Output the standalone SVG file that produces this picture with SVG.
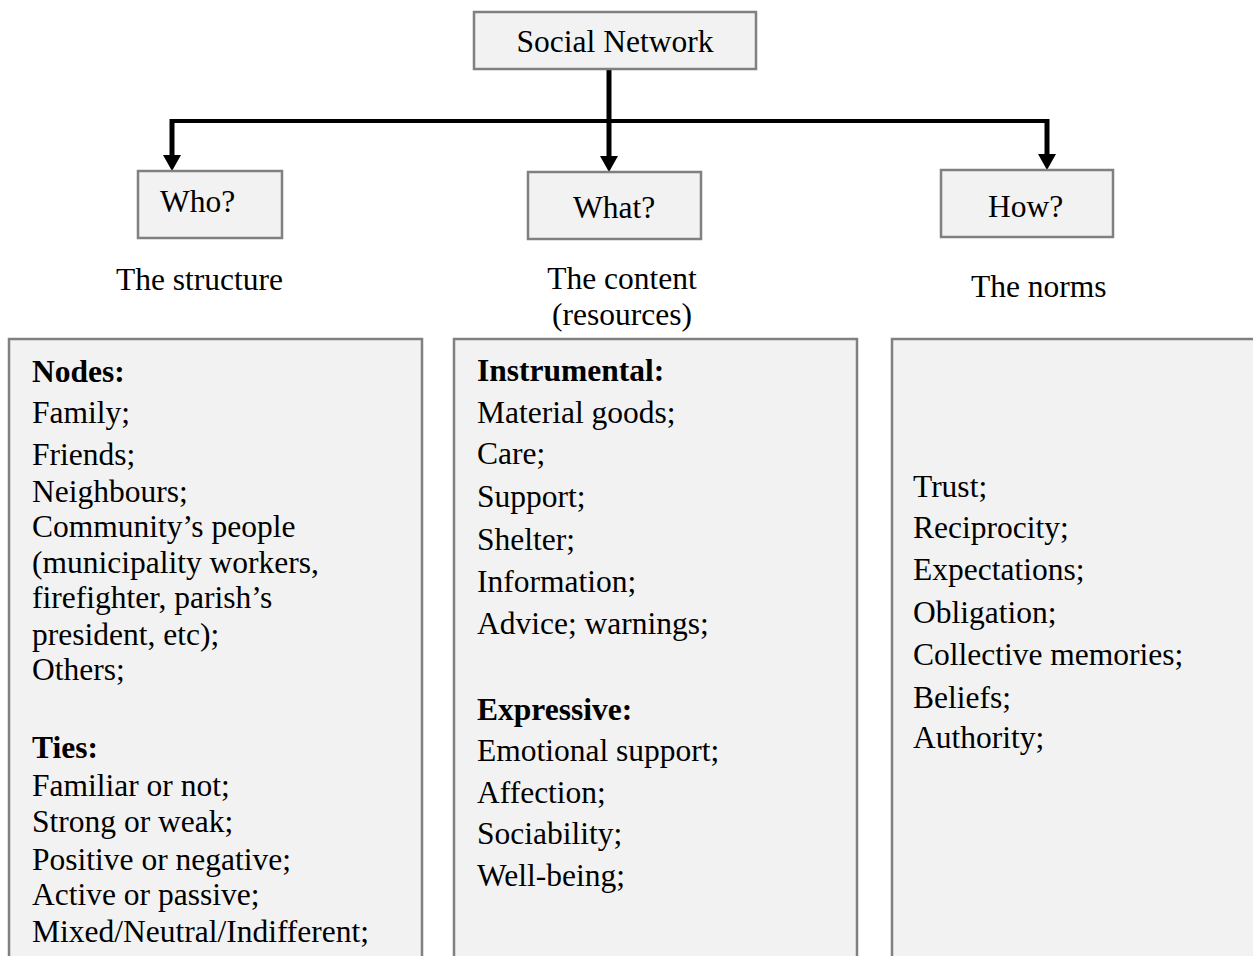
<svg xmlns="http://www.w3.org/2000/svg" width="1253" height="956" viewBox="0 0 1253 956">
<style>
.box{fill:#f2f2f2;stroke:#808080;stroke-width:2.5}
.t{font-family:"Liberation Serif","Times New Roman",serif;font-size:31.5px;fill:#000}
.b{font-weight:bold}
.c{fill:none;stroke:#000;stroke-width:5}
.h{fill:#000}
</style>
<rect width="1253" height="956" fill="#fff"/>
<g id="connectors">
<path class="c" d="M609,69 V157"/>
<path class="c" d="M172,121 H1047" style="stroke-width:4"/>
<path class="c" d="M172,119 V157"/>
<path class="c" d="M1047,119 V156"/>
<path class="h" d="M600,156 L618,156 L609,172 Z"/>
<path class="h" d="M163,155 L181,155 L172,171 Z"/>
<path class="h" d="M1038,154 L1056,154 L1047,170 Z"/>
</g>
<g id="social-network">
<rect class="box" x="474" y="12" width="282" height="57"/>
<text class="t" x="615" y="52" text-anchor="middle">Social Network</text>
</g>
<g id="who">
<rect class="box" x="138" y="171" width="144" height="67"/>
<text class="t" x="160" y="212">Who?</text>
</g>
<g id="what">
<rect class="box" x="528" y="172" width="173" height="67"/>
<text class="t" x="573" y="218">What?</text>
</g>
<g id="how">
<rect class="box" x="941" y="170" width="172" height="67"/>
<text class="t" x="988" y="217">How?</text>
</g>
<g id="label-structure">
<text class="t" x="116" y="290">The structure</text>
</g>
<g id="label-content">
<text class="t" x="622" y="289" text-anchor="middle">The content</text>
<text class="t" x="622" y="325" text-anchor="middle">(resources)</text>
</g>
<g id="label-norms">
<text class="t" x="971" y="297">The norms</text>
</g>
<g id="structure-box">
<rect class="box" x="9" y="339" width="413" height="640"/>
<text class="t b" x="32" y="382">Nodes:</text>
<text class="t" x="32" y="423">Family;</text>
<text class="t" x="32" y="465">Friends;</text>
<text class="t" x="32" y="502">Neighbours;</text>
<text class="t" x="32" y="537">Community’s people</text>
<text class="t" x="32" y="573">(municipality workers,</text>
<text class="t" x="32" y="608">firefighter, parish’s</text>
<text class="t" x="32" y="645">president, etc);</text>
<text class="t" x="32" y="680">Others;</text>
<text class="t b" x="32" y="758">Ties:</text>
<text class="t" x="32" y="796">Familiar or not;</text>
<text class="t" x="32" y="832">Strong or weak;</text>
<text class="t" x="32" y="870">Positive or negative;</text>
<text class="t" x="32" y="905">Active or passive;</text>
<text class="t" x="32" y="942">Mixed/Neutral/Indifferent;</text>
</g>
<g id="content-box">
<rect class="box" x="454" y="339" width="403" height="640"/>
<text class="t b" x="477" y="381">Instrumental:</text>
<text class="t" x="477" y="423">Material goods;</text>
<text class="t" x="477" y="464">Care;</text>
<text class="t" x="477" y="507">Support;</text>
<text class="t" x="477" y="550">Shelter;</text>
<text class="t" x="477" y="592">Information;</text>
<text class="t" x="477" y="634">Advice; warnings;</text>
<text class="t b" x="477" y="720">Expressive:</text>
<text class="t" x="477" y="761">Emotional support;</text>
<text class="t" x="477" y="803">Affection;</text>
<text class="t" x="477" y="844">Sociability;</text>
<text class="t" x="477" y="886">Well-being;</text>
</g>
<g id="norms-box">
<rect class="box" x="892" y="339" width="400" height="640"/>
<text class="t" x="913" y="497">Trust;</text>
<text class="t" x="913" y="538">Reciprocity;</text>
<text class="t" x="913" y="580">Expectations;</text>
<text class="t" x="913" y="623">Obligation;</text>
<text class="t" x="913" y="665">Collective memories;</text>
<text class="t" x="913" y="708">Beliefs;</text>
<text class="t" x="913" y="748">Authority;</text>
</g>
</svg>
